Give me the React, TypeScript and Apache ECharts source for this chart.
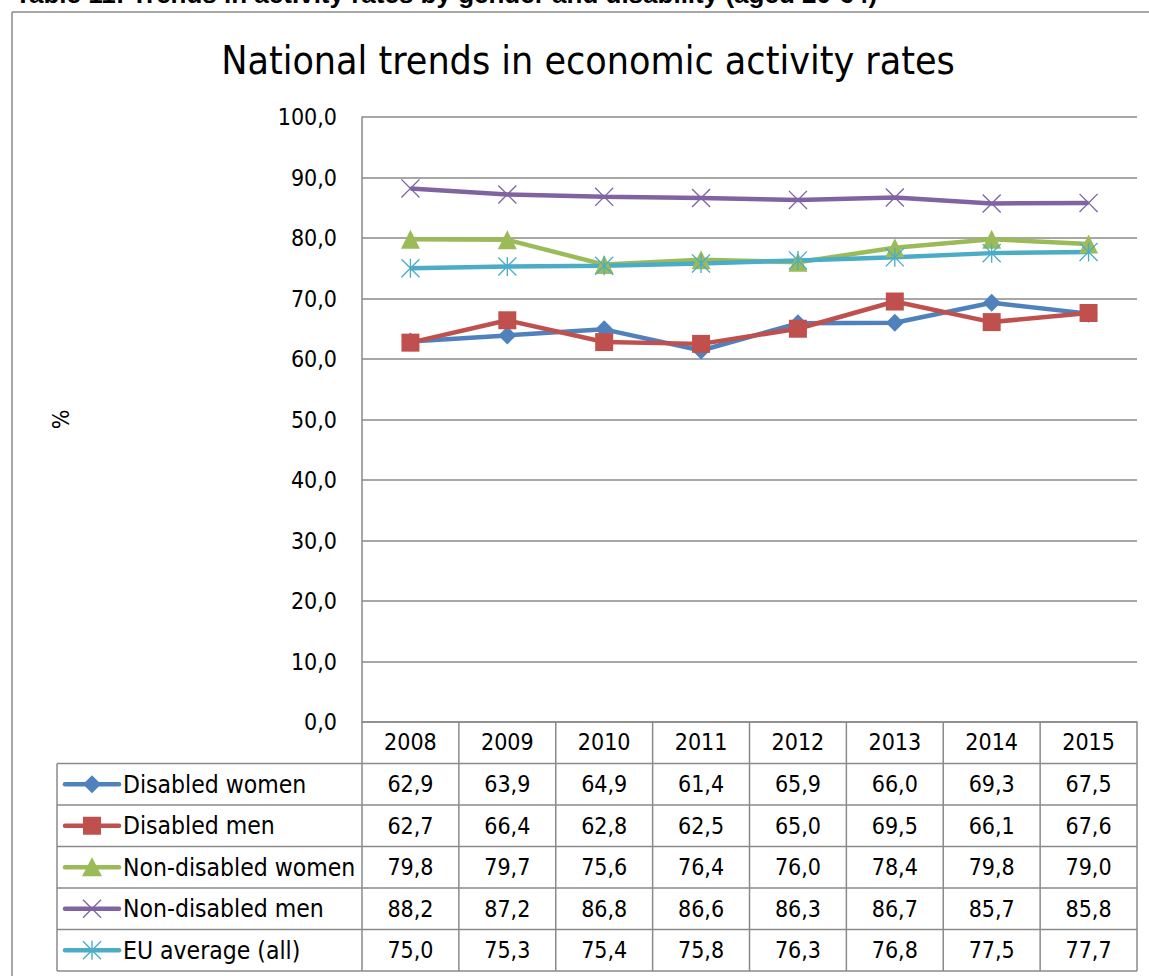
import React, { useEffect, useRef } from "react";
import * as echarts from "echarts";

const years = ["2008", "2009", "2010", "2011", "2012", "2013", "2014", "2015"];
const disabledWomen = [62.9, 63.9, 64.9, 61.4, 65.9, 66.0, 69.3, 67.5];
const disabledMen = [62.7, 66.4, 62.8, 62.5, 65.0, 69.5, 66.1, 67.6];
const nonDisabledWomen = [79.8, 79.7, 75.6, 76.4, 76.0, 78.4, 79.8, 79.0];
const nonDisabledMen = [88.2, 87.2, 86.8, 86.6, 86.3, 86.7, 85.7, 85.8];
const euAverage = [75.0, 75.3, 75.4, 75.8, 76.3, 76.8, 77.5, 77.7];
const seriesNames = ["Disabled women", "Disabled men", "Non-disabled women", "Non-disabled men", "EU average (all)"];
const seriesColors = ["#4F81BD", "#C0504D", "#9BBB59", "#8064A2", "#4BACC6"];
const seriesSymbols = ["diamond", "square", "triangle", "x", "asterisk"];
const yTicks = [0, 10, 20, 30, 40, 50, 60, 70, 80, 90, 100];

const FONT = '"Liberation Sans Narrow", "DejaVu Sans Condensed", "Arial Narrow", sans-serif';
const GRID = "#8A8A8A";
const X_PATH = "M0,1 L1,0 L10,9 L19,0 L20,1 L11,10 L20,19 L19,20 L10,11 L1,20 L0,19 L9,10 Z";
const AST_PATH = X_PATH + " M9.3,0 L10.7,0 L10.7,20 L9.3,20 Z";

const fmt = (v: number) => v.toFixed(1).replace(".", ",");

function symbolFor(kind: string): { symbol: string; size: number } {
  switch (kind) {
    case "diamond":
      return { symbol: "diamond", size: 18 };
    case "square":
      return { symbol: "rect", size: 18 };
    case "triangle":
      return { symbol: "triangle", size: 19 };
    case "x":
      return { symbol: "path://" + X_PATH, size: 19 };
    default:
      return { symbol: "path://" + AST_PATH, size: 19 };
  }
}

function legendSymbol(kind: string, cx: number, cy: number, color: string): any[] {
  const s = 9;
  if (kind === "diamond") {
    return [{ type: "polygon", shape: { points: [[cx, cy - s], [cx + s, cy], [cx, cy + s], [cx - s, cy]] }, style: { fill: color } }];
  }
  if (kind === "square") {
    return [{ type: "rect", shape: { x: cx - s, y: cy - s, width: 2 * s, height: 2 * s }, style: { fill: color } }];
  }
  if (kind === "triangle") {
    return [{ type: "polygon", shape: { points: [[cx, cy - s - 1], [cx + s + 1, cy + s], [cx - s - 1, cy + s]] }, style: { fill: color } }];
  }
  const k = 19 / 20;
  const xPts = [[0, 1], [1, 0], [10, 9], [19, 0], [20, 1], [11, 10], [20, 19], [19, 20], [10, 11], [1, 20], [0, 19], [9, 10]].map(
    ([px, py]) => [cx - 9.5 + px * k, cy - 9.5 + py * k]
  );
  const out: any[] = [{ type: "polygon", shape: { points: xPts }, style: { fill: color } }];
  if (kind === "asterisk") {
    out.push({ type: "rect", shape: { x: cx - 0.7, y: cy - 9.5, width: 1.4, height: 19 }, style: { fill: color } });
  }
  return out;
}

export default function App() {
  const ref = useRef<HTMLDivElement>(null);
  useEffect(() => {
    if (!ref.current) return;
    const chart = echarts.init(ref.current, null, { renderer: "svg" });
    const allData = [disabledWomen, disabledMen, nonDisabledWomen, nonDisabledMen, euAverage];
    const gridLeft = 362;
    const gridRight = 12;
    const gridTop = 117;
    const gridBottom = 254;
    chart.setOption({
      animation: false,
      backgroundColor: "#fff",
      grid: { left: gridLeft, right: gridRight, top: gridTop, bottom: gridBottom },
      xAxis: {
        type: "category",
        data: years,
        boundaryGap: true,
        axisLine: { show: true, lineStyle: { color: GRID, width: 1.5 } },
        axisTick: { show: false },
        axisLabel: { show: true, color: "#000", fontSize: 23, fontFamily: FONT, margin: 20, verticalAlign: "middle" },
        splitLine: { show: false },
      },
      yAxis: {
        type: "value",
        min: yTicks[0],
        max: yTicks[yTicks.length - 1],
        interval: 10,
        name: "%",
        nameLocation: "middle",
        nameRotate: 90,
        nameGap: 290,
        nameTextStyle: { color: "#000", fontSize: 23, fontFamily: FONT },
        axisLine: { show: true, lineStyle: { color: GRID, width: 1.5 } },
        axisTick: { show: false },
        axisLabel: { color: "#000", fontSize: 23, fontFamily: FONT, margin: 25, formatter: (v: number) => fmt(v) },
        splitLine: { show: true, lineStyle: { color: GRID, width: 1.5 } },
      },
      series: allData.map((d, i) => {
        const sym = symbolFor(seriesSymbols[i]);
        return {
          name: seriesNames[i],
          type: "line",
          data: d,
          symbol: sym.symbol,
          symbolSize: sym.size,
          showAllSymbol: true,
          itemStyle: { color: seriesColors[i] },
          lineStyle: { color: seriesColors[i], width: 4.5 },
          emphasis: { disabled: true },
        };
      }),
    });

    const centers = years.map((_, i) => chart.convertToPixel({ xAxisIndex: 0 }, i) as number);
    const half = (centers[1] - centers[0]) / 2;
    const colEdges = [centers[0] - half, ...centers.map((c) => c + half)];
    const yZero = chart.convertToPixel({ yAxisIndex: 0 }, 0) as number;
    const tableLeft = 57;
    const tableRight = colEdges[colEdges.length - 1];
    const rowH = 41.5;
    const headerBottom = yZero + rowH;
    const rowTops = seriesNames.map((_, i) => headerBottom + i * rowH);
    const tableBottom = headerBottom + seriesNames.length * rowH;

    const g: any[] = [];
    const line = (x1: number, y1: number, x2: number, y2: number) =>
      g.push({ type: "line", shape: { x1, y1, x2, y2 }, style: { stroke: GRID, lineWidth: 1.5 }, z: 10 });

    // outer frame
    line(12, 12, 1160, 12);
    line(12, 12, 12, 990);
    // header (cut off at the top edge, as in the source page)
    g.push({
      type: "text",
      x: 15,
      y: 7,
      style: {
        text: "Table 11: Trends in activity rates by gender and disability (aged 20-64)",
        fill: "#000",
        fontSize: 26,
        fontWeight: "bold",
        fontFamily: '"Liberation Sans", Arial, sans-serif',
        verticalAlign: "bottom",
      },
    });
    // title
    g.push({
      type: "text",
      x: 588,
      y: 60,
      style: {
        text: "National trends in economic activity rates",
        fill: "#000",
        fontSize: 39,
        fontFamily: FONT,
        align: "center",
        verticalAlign: "middle",
      },
    });

    // table lines
    for (let r = 0; r <= seriesNames.length; r++) {
      const y = headerBottom + r * rowH;
      line(tableLeft, y, tableRight, y);
    }
    line(tableLeft, headerBottom, tableLeft, tableBottom);
    colEdges.forEach((x) => {
      line(x, yZero, x, tableBottom);
    });

    // rows
    seriesNames.forEach((name, i) => {
      const cy = rowTops[i] + rowH / 2;
      const color = seriesColors[i];
      g.push({ type: "line", shape: { x1: 65, y1: cy, x2: 119, y2: cy }, style: { stroke: color, lineWidth: 4.5, lineCap: "round" }, z: 11 });
      legendSymbol(seriesSymbols[i], 92, cy, color).forEach((el) => g.push({ ...el, z: 12 }));
      g.push({
        type: "text",
        x: 123,
        y: cy,
        z: 12,
        style: { text: name, fill: "#000", fontSize: 24.5, fontFamily: FONT, align: "left", verticalAlign: "middle" },
      });
      allData[i].forEach((v, j) => {
        g.push({
          type: "text",
          x: centers[j],
          y: cy,
          z: 12,
          style: { text: fmt(v), fill: "#000", fontSize: 23, fontFamily: FONT, align: "center", verticalAlign: "middle" },
        });
      });
    });

    chart.setOption({ graphic: g });
    return () => chart.dispose();
  }, []);
  return <div ref={ref} style={{ position: "absolute", left: 0, top: 0, width: 1149, height: 976 }} />;
}
